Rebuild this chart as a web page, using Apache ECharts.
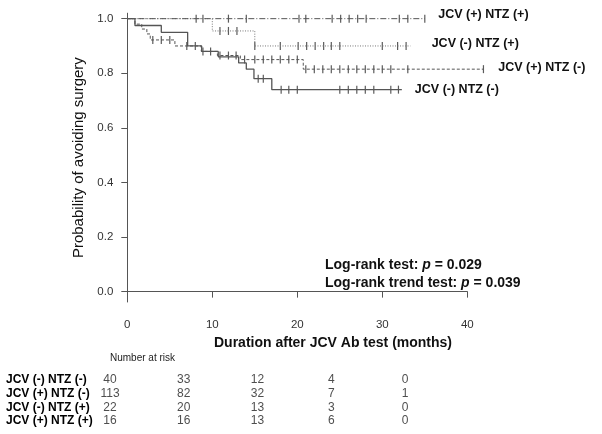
<!DOCTYPE html>
<html>
<head>
<meta charset="utf-8">
<script src="https://cdn.jsdelivr.net/npm/echarts@6/dist/echarts.min.js"></script>
<style>html,body{margin:0;padding:0;background:#fff}#c{width:602px;height:434px}</style>
</head>
<body>
<div id="c"></div>
<script>
// ---- data ----
const groups = ['JCV (-) NTZ (-)', 'JCV (+) NTZ (-)', 'JCV (-) NTZ (+)', 'JCV (+) NTZ (+)'];
// Kaplan-Meier steps [month, survival]
const stepsNegNeg = [[0,1],[0.9,0.975],[4.0,0.95],[7.1,0.90],[8.75,0.88],[10.7,0.86],[13.1,0.838],[14.0,0.815],[14.9,0.78],[17.0,0.74],[32.3,0.74]];
const stepsPosNeg = [[0,1],[0.9,0.98],[1.7,0.962],[2.3,0.944],[2.7,0.922],[5.6,0.90],[8.7,0.88],[10.6,0.865],[13.3,0.85],[20.7,0.815],[41.9,0.815]];
const stepsNegPos = [[0,1],[10.0,0.955],[15.0,0.90],[33.3,0.90]];
const stepsPosPos = [[0,1],[35.0,1]];
// censoring times (months)
const censNegNeg = [15.4,16.0,18.1,19.0,20.0,25.0,26.0,27.0,28.0,29.0,31.0,31.9];
const censPosNeg = [3.0,4.0,5.0,7.0,8.0,8.9,9.8,10.9,11.9,12.8,13.8,15.0,16.0,17.0,18.0,19.0,20.0,21.0,22.0,23.0,24.0,25.0,26.0,27.0,28.0,29.0,30.0,31.0,33.0,41.9];
const censNegPos = [10.9,11.9,12.9,15.0,18.0,20.1,21.1,22.1,23.1,24.0,25.0,30.0,31.8,32.8];
const censPosPos = [8.1,8.9,11.9,14.0,20.2,21.0,24.1,25.1,26.1,27.1,28.1,32.0,33.0,35.0];
// number at risk
const riskTimes = [0,10,20,30,40];
const riskNegNeg = [40,33,12,4,0];
const riskPosNeg = [113,82,32,7,1];
const riskNegPos = [22,20,13,3,0];
const riskPosPos = [16,16,13,6,0];
const yTicks = [0,0.2,0.4,0.6,0.8,1.0];

// ---- chart ----
const F = "'Liberation Sans', Arial, sans-serif";
function survAt(steps, t){let s=steps[0][1];for(const p of steps){if(p[0]<=t)s=p[1];}return s;}

const curves = [
  {name:groups[0], steps:stepsNegNeg, cens:censNegNeg, type:'solid', width:1.3, color:'#555', off:[13,0]},
  {name:groups[1], steps:stepsPosNeg, cens:censPosNeg, type:[3,2], width:1, color:'#555', off:[14.8,-2]},
  {name:groups[2], steps:stepsNegPos, cens:censNegPos, type:[1,1.5], width:1, color:'#777', off:[21.3,-2]},
  {name:groups[3], steps:stepsPosPos, cens:censPosPos, type:[6,2,1,2], width:1, color:'#555', off:[13.5,-3.7]}
];
const series = [];
curves.forEach(c=>{
  series.push({
    type:'line', name:c.name, xAxisIndex:1, yAxisIndex:1, step:'end', data:c.steps,
    symbol:'none', clip:false,
    lineStyle:{type:c.type, width:c.width, color:c.color},
    endLabel:{show:true, formatter:c.name, distance:0, offset:c.off, fontFamily:F, fontWeight:'bold', fontSize:12.5, color:'#111'}
  });
  series.push({
    type:'scatter', xAxisIndex:1, yAxisIndex:1, symbol:'rect', symbolSize:[1.2,8],
    itemStyle:{color:'#333'}, data:c.cens.map(t=>[t, survAt(c.steps,t)])
  });
});
const risks = [riskNegNeg, riskPosNeg, riskNegPos, riskPosPos];
risks.forEach((r,i)=>{
  series.push({
    type:'scatter', xAxisIndex:2, yAxisIndex:2, symbolSize:1, itemStyle:{color:'rgba(0,0,0,0)'},
    label:{show:true, position:'inside', formatter:p=>String(p.value[2]), fontFamily:F, fontSize:12, color:'#222'},
    data:riskTimes.map((t,j)=>[t, groups[i], r[j]])
  });
});

const chart = echarts.init(document.getElementById('c'), null, {renderer:'canvas'});
chart.setOption({
  animation:false,
  backgroundColor:'#fff',
  textStyle:{fontFamily:F},
  grid:[
    {left:127.3, right:134.7, top:13.2, bottom:132},
    {left:127.3, right:100.7, top:13.2, bottom:132},
    {left:110, right:197, top:373.2, bottom:6.1}
  ],
  xAxis:[
    {gridIndex:0, type:'value', min:0, max:40, interval:10,
     axisLine:{show:true, lineStyle:{color:'#555', width:1}},
     axisTick:{show:true, length:6, lineStyle:{color:'#555'}},
     axisLabel:{margin:17, fontSize:11.5, color:'#333', fontFamily:F},
     splitLine:{show:false}},
    {gridIndex:1, type:'value', min:0, max:44, show:false, splitLine:{show:false}},
    {gridIndex:2, type:'value', min:0, max:40, show:false, splitLine:{show:false}}
  ],
  yAxis:[
    {gridIndex:0, type:'value', min:-0.038, max:1.02,
     axisLine:{show:true, lineStyle:{color:'#555', width:1}},
     axisTick:{show:true, length:6, customValues:yTicks, lineStyle:{color:'#555'}},
     axisLabel:{customValues:yTicks, formatter:v=>v.toFixed(1), margin:14, fontSize:11.5, color:'#333', fontFamily:F},
     splitLine:{show:false},
     name:'Probability of avoiding surgery', nameLocation:'middle', nameGap:37,
     nameTextStyle:{fontSize:15, color:'#111', fontFamily:F}},
    {gridIndex:1, type:'value', min:-0.038, max:1.02, show:false, splitLine:{show:false}},
    {gridIndex:2, type:'category', data:groups, inverse:true,
     axisLine:{show:false}, axisTick:{show:false}, splitLine:{show:false},
     axisLabel:{interval:0, align:'left', margin:104, fontWeight:'bold', fontSize:12, color:'#000', fontFamily:F}}
  ],
  graphic:[
    {type:'text', x:333, y:343, style:{text:'Duration after JCV Ab test (months)', font:"bold 14px 'Liberation Sans', Arial, sans-serif", fill:'#111', textAlign:'center', textVerticalAlign:'middle'}},
    {type:'text', x:325, y:265, style:{text:'{b|Log-rank test: }{i|p}{b| = 0.029}', textVerticalAlign:'middle',
      rich:{b:{fontFamily:F, fontWeight:'bold', fontSize:14, fill:'#111'}, i:{fontFamily:F, fontStyle:'italic', fontWeight:'bold', fontSize:14, fill:'#111'}}}},
    {type:'text', x:325, y:283.3, style:{text:'{b|Log-rank trend test: }{i|p}{b| = 0.039}', textVerticalAlign:'middle',
      rich:{b:{fontFamily:F, fontWeight:'bold', fontSize:14, fill:'#111'}, i:{fontFamily:F, fontStyle:'italic', fontWeight:'bold', fontSize:14, fill:'#111'}}}},
    {type:'text', x:110, y:358, style:{text:'Number at risk', font:"10px 'Liberation Sans', Arial, sans-serif", fill:'#222', textVerticalAlign:'middle'}}
  ],
  series:series
});
</script>
</body>
</html>
